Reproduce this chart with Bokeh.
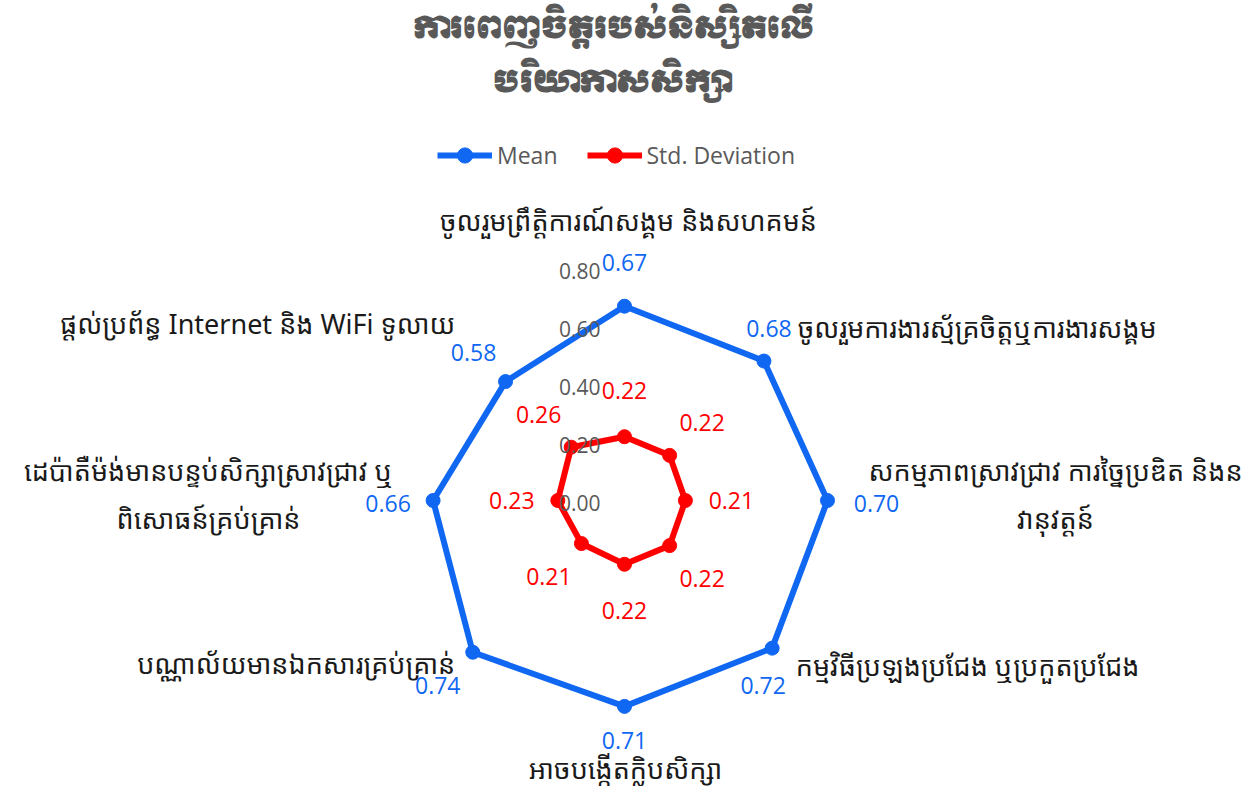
import numpy as np
from bokeh.plotting import figure
from bokeh.models import Legend, LegendItem
from bokeh.core.properties import value
from bokeh.embed import file_html
from bokeh.resources import INLINE

# ---------------- data ----------------
title_lines = ["ការពេញចិត្តរបស់និស្សិតលើ", "បរិយាកាសសិក្សា"]
categories = [
    "ចូលរួមព្រឹត្តិការណ៍សង្គម និងសហគមន៍",
    "ចូលរួមការងារស្ម័គ្រចិត្តឬការងារសង្គម",
    "សកម្មភាពស្រាវជ្រាវ ការច្នៃប្រឌិត និងន\nវានុវត្តន៍",
    "កម្មវិធីប្រឡងប្រជែង ឬប្រកួតប្រជែង",
    "អាចបង្កើតក្លិបសិក្សា",
    "បណ្ណាល័យមានឯកសារគ្រប់គ្រាន់",
    "ដេប៉ាតឺម៉ង់មានបន្ទប់សិក្សាស្រាវជ្រាវ ឬ\nពិសោធន៍គ្រប់គ្រាន់",
    "ផ្តល់ប្រព័ន្ធ Internet និង WiFi ទូលាយ",
]
mean_values = [0.67, 0.68, 0.70, 0.72, 0.71, 0.74, 0.66, 0.58]
std_values = [0.22, 0.22, 0.21, 0.22, 0.22, 0.21, 0.23, 0.26]
series_names = ["Mean", "Std. Deviation"]
tick_values = [0.0, 0.2, 0.4, 0.6, 0.8]
tick_labels = ["0.00", "0.20", "0.40", "0.60", "0.80"]

# ---------------- style / layout ----------------
BLUE = "#0F67F2"
RED = "#FF0000"
GRAY = "#595959"
KH_FONT = "Noto Sans Khmer, Khmer OS System, Khmer OS, Open Sans, sans-serif"
TITLE_FONT = "Khmer OS Muol Light, Moul, Noto Serif Khmer, Noto Sans Khmer, sans-serif"
NUM_FONT = "Open Sans"

S = 290.0                 # pixels per data unit
W, H = 1256, 786
CX, CY = 624, 500         # chart centre in figure pixels


def page(px, py):
    """figure pixel -> data coordinates"""
    return (px - CX) / S, (CY - py) / S


def off(dx, dy):
    """screen pixel offset (dy downward) -> data offset"""
    return dx / S, -dy / S


n = len(categories)
theta = np.arange(n) * 2 * np.pi / n
sin_t, cos_t = np.sin(theta), np.cos(theta)

p = figure(width=W, height=H,
           x_range=(-CX / S, (W - CX) / S), y_range=(-(H - CY) / S, CY / S),
           output_backend="svg", toolbar_location=None,
           x_axis_location=None, y_axis_location=None,
           min_border=0, outline_line_color=None)
p.grid.visible = False
p.background_fill_color = "white"
p.border_fill_color = "white"

# series
renderers = []
for vals, col in ((mean_values, BLUE), (std_values, RED)):
    v = np.array(vals)
    xs, ys = v * sin_t, v * cos_t
    lr = p.line(list(xs) + [xs[0]], list(ys) + [ys[0]], line_color=col,
                line_width=6, line_join="round")
    sr = p.scatter(xs, ys, size=14, fill_color=col, line_color=col)
    renderers.append((lr, sr))

# radial tick labels
for tv, tl in zip(tick_values, tick_labels):
    dx, dy = off(-24, 2)
    p.text(x=[dx], y=[tv + dy], text=[tl], text_font=value(NUM_FONT),
           text_font_size="21px", text_color=GRAY, text_align="right",
           text_baseline="middle")

# data labels: mean (per-point pixel offsets), std (radial offset)
mean_offsets = [(0, -44), (5, -33), (49, 3), (-9, 37), (0, 34), (-35, 33),
                (-45, 3), (-32, -29)]
for i, v in enumerate(mean_values):
    ox, oy = off(*mean_offsets[i])
    p.text(x=[v * sin_t[i] + ox], y=[v * cos_t[i] + oy], text=[f"{v:.2f}"],
           text_font=value(NUM_FONT), text_font_size="23px", text_color=BLUE,
           text_align="center", text_baseline="middle")
for i, v in enumerate(std_values):
    r = v + 46 / S
    p.text(x=[r * sin_t[i]], y=[r * cos_t[i]], text=[f"{v:.2f}"],
           text_font=value(NUM_FONT), text_font_size="23px", text_color=RED,
           text_align="center", text_baseline="middle")

# category labels
R_LAB = 245 / S
cat_styles = [
    ("center", (4, -35)),
    ("left", (0, 0)),
    ("center", (186, -6)),
    ("left", (-2, -8)),
    ("center", (1, 23)),
    ("right", (4, -10)),
    ("center", (-171, -6)),
    ("right", (4, -4)),
]
for i, lab in enumerate(categories):
    align, (dx, dy) = cat_styles[i]
    ox, oy = off(dx, dy)
    p.text(x=[R_LAB * sin_t[i] + ox], y=[R_LAB * cos_t[i] + oy], text=[lab],
           text_font=value(KH_FONT), text_font_size="27px", text_color="#1a1a1a",
           text_align=align, text_baseline="middle", text_line_height=1.32)

# title
for line, py in zip(title_lines, (28, 82)):
    tx, ty = page(613, py)
    p.text(x=[tx], y=[ty], text=[line], text_font=value(TITLE_FONT),
           text_font_size="30px", text_font_style="bold", text_color=GRAY,
           text_align="center", text_baseline="middle")

# legend
legend = Legend(items=[LegendItem(label=series_names[0], renderers=list(renderers[0])),
                       LegendItem(label=series_names[1], renderers=list(renderers[1]))],
                orientation="horizontal", location=(437, 612),
                glyph_width=55, glyph_height=38, label_height=38,
                label_text_font_size="23px", label_text_color=GRAY,
                label_text_font=NUM_FONT, label_standoff=5, spacing=29,
                padding=0, margin=0, border_line_color=None,
                background_fill_alpha=0)
p.add_layout(legend)

open("out.html", "w").write(file_html(p, INLINE))
